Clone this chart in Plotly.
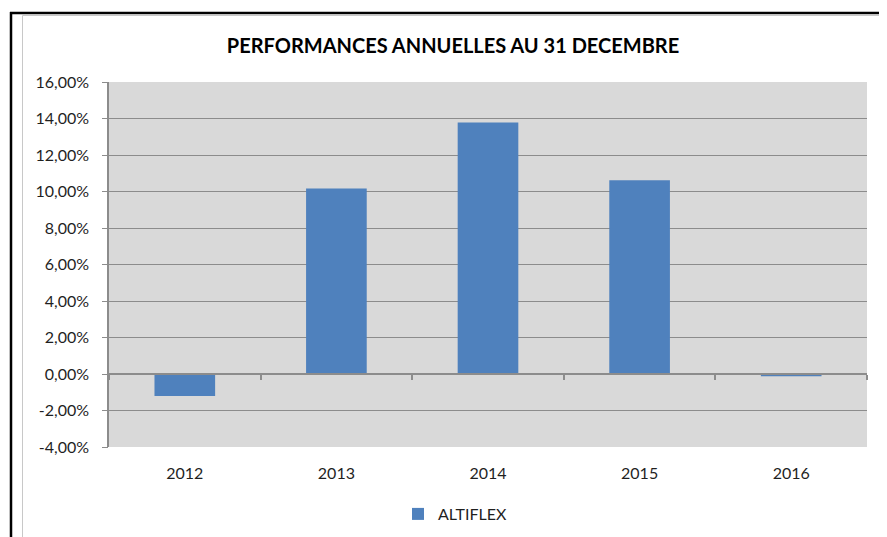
import plotly.graph_objects as go

years = ["2012", "2013", "2014", "2015", "2016"]
perf = [-0.0120, 0.1017, 0.1378, 0.1061, -0.0012]
series_name = "ALTIFLEX"
y_ticks = [-0.04, -0.02, 0.0, 0.02, 0.04, 0.06, 0.08, 0.10, 0.12, 0.14, 0.16]
y_tick_labels = ["-4,00%", "-2,00%", "0,00%", "2,00%", "4,00%", "6,00%",
                 "8,00%", "10,00%", "12,00%", "14,00%", "16,00%"]

OFF = 8  # default page body margin
W, H = 887 - OFF, 537 - OFF
L, R, T, B = 109, 867, 82, 447  # plot area in page pixels


def px(x):
    return (x - L) / (R - L)


def py(y):
    return (B - y) / (B - T)


font_family = "Lato, 'Open Sans', Arial, sans-serif"
text_col = "#1F1F1F"
grid_col = "#8C8C8C"
y_range = [-0.04, 0.16]

fig = go.Figure()
fig.add_trace(go.Bar(
    x=list(range(len(years))), y=perf, name=series_name,
    marker=dict(color="#4F81BD", line=dict(width=0)),
    width=0.4, showlegend=True,
    hovertemplate="%{y:.2%}<extra></extra>",
))
fig.add_trace(go.Scatter(x=[-0.5, len(years) - 0.5], y=[0, 0], xaxis="x2",
                         yaxis="y2", mode="lines", line=dict(width=0),
                         hoverinfo="skip", showlegend=False))

fig.update_layout(
    width=W, height=H,
    margin=dict(l=L - OFF, r=887 - R, t=T - OFF, b=537 - B, autoexpand=False),
    paper_bgcolor="white",
    plot_bgcolor="#D9D9D9",
    separators=",.",
    font=dict(family=font_family, size=16, color=text_col),
    title=dict(text="<b>PERFORMANCES ANNUELLES AU 31 DECEMBRE</b>",
               x=(453 - OFF) / W, xanchor="center", y=1 - (46 - OFF) / H,
               yanchor="middle",
               font=dict(size=20, color="#000000", family=font_family)),
    xaxis=dict(
        range=[-0.5, len(years) - 0.5],
        tickmode="array", tickvals=list(range(len(years))), ticktext=years,
        showgrid=False, zeroline=False, showline=False,
        ticks="outside", ticklen=12, tickcolor="rgba(0,0,0,0)",
        tickfont=dict(size=16, color=text_col),
    ),
    xaxis2=dict(
        overlaying="x", anchor="free", position=0.2, side="bottom",
        range=[-0.5, len(years) - 0.5],
        tickmode="array", tickvals=[i + 0.5 for i in range(-1, len(years))],
        showticklabels=False, showgrid=False, zeroline=False,
        showline=True, linecolor=grid_col, linewidth=1.5,
        ticks="outside", ticklen=5, tickcolor=grid_col, tickwidth=1.5,
    ),
    yaxis=dict(
        range=y_range, tickmode="array", tickvals=y_ticks,
        ticktext=y_tick_labels, showgrid=True, gridcolor=grid_col,
        gridwidth=1.2, zeroline=False, showline=True, linecolor=grid_col,
        linewidth=1.5, ticks="outside", ticklen=15,
        tickcolor="rgba(0,0,0,0)",
        tickfont=dict(size=16, color=text_col),
    ),
    yaxis2=dict(
        overlaying="y", anchor="x", side="left", range=y_range,
        tickmode="array", tickvals=y_ticks, showticklabels=False,
        showgrid=False, zeroline=False, showline=False,
        ticks="outside", ticklen=6, tickcolor=grid_col, tickwidth=1.2,
    ),
    legend=dict(orientation="h", x=0.5 - 33 / (R - L), xanchor="center",
                y=py(514), yanchor="middle",
                font=dict(size=16, color=text_col)),
    bargap=0.6,
    shapes=[
        dict(type="line", xref="paper", yref="paper", x0=px(11), x1=px(11),
             y0=py(12), y1=py(540), line=dict(color="black", width=2.5)),
        dict(type="line", xref="paper", yref="paper", x0=px(10), x1=px(890),
             y0=py(13), y1=py(13), line=dict(color="black", width=2.5)),
        dict(type="line", xref="paper", yref="paper", x0=px(22.5), x1=px(22.5),
             y0=py(15.5), y1=py(540), line=dict(color="#C8C8C8", width=1)),
        dict(type="line", xref="paper", yref="paper", x0=px(22.5), x1=px(890),
             y0=py(15.5), y1=py(15.5), line=dict(color="#C8C8C8", width=1)),
    ],
)

fig.write_html("out.html")
